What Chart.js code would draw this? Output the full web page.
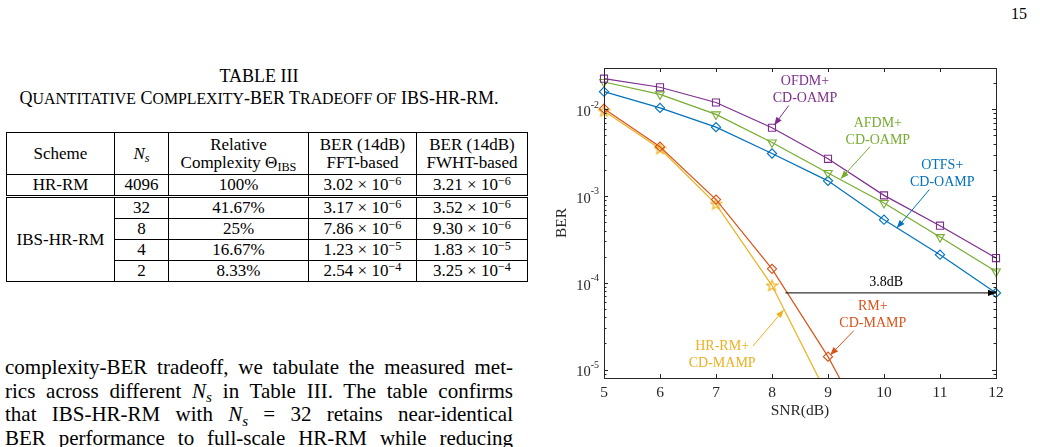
<!DOCTYPE html>
<html>
<head>
<meta charset="utf-8">
<script src="https://cdn.jsdelivr.net/npm/chart.js@4.4.1/dist/chart.umd.min.js"></script>
<style>
  html, body { margin: 0; padding: 0; background: #fff; }
  body { width: 1040px; height: 447px; overflow: hidden; position: relative;
         font-family: "Liberation Serif", "Times New Roman", serif; color: #000; }
  .pageno { position: absolute; left: 1011px; top: 5px; font-size: 16px; }
  .cap { position: absolute; left: 5px; width: 508px; top: 65px; text-align: center;
         font-size: 18px; line-height: 22px; white-space: nowrap; }
  .cap small { font-size: 0.88em; }
  table.t3 { position: absolute; left: 6px; top: 132px; border-collapse: collapse;
             table-layout: fixed; font-size: 17px; font-family: "Liberation Serif", "Times New Roman", serif; }
  table.t3 td { border: 1px solid #000; text-align: center; vertical-align: middle;
                padding: 0; height: 20px; line-height: 18px; white-space: nowrap; }
  table.t3 tr.head td { height: 41px; }
  table.t3 tr.dbl td { border-bottom: 3px double #000; }
  sub, sup { font-size: 72%; line-height: 0; vertical-align: baseline; position: relative; }
  sub { top: 0.3em; }
  sup { top: -0.45em; }
  .para { position: absolute; left: 5px; top: 356px; width: 508px; font-size: 21px; line-height: 23.7px; }
  .para div { height: 23.7px; text-align: justify; text-align-last: justify; white-space: nowrap; }
  #wrap { position: absolute; left: 540px; top: 50px; width: 470px; height: 380px; }
</style>
</head>
<body>
<div class="pageno">15</div>

<div class="cap">TABLE III<br>Q<small>UANTITATIVE</small> C<small>OMPLEXITY</small>-BER T<small>RADEOFF OF</small> IBS-HR-RM.</div>

<table class="t3">
  <colgroup><col style="width:108px"><col style="width:54px"><col style="width:140px"><col style="width:108px"><col style="width:111px"></colgroup>
  <tr class="head"><td>Scheme</td><td><i>N<sub>s</sub></i></td><td>Relative<br>Complexity &Theta;<sub>IBS</sub></td><td>BER (14dB)<br>FFT-based</td><td>BER (14dB)<br>FWHT-based</td></tr>
  <tr class="dbl"><td>HR-RM</td><td>4096</td><td>100%</td><td>3.02 &times; 10<sup>&minus;6</sup></td><td>3.21 &times; 10<sup>&minus;6</sup></td></tr>
  <tr><td rowspan="4">IBS-HR-RM</td><td>32</td><td>41.67%</td><td>3.17 &times; 10<sup>&minus;6</sup></td><td>3.52 &times; 10<sup>&minus;6</sup></td></tr>
  <tr><td>8</td><td>25%</td><td>7.86 &times; 10<sup>&minus;6</sup></td><td>9.30 &times; 10<sup>&minus;6</sup></td></tr>
  <tr><td>4</td><td>16.67%</td><td>1.23 &times; 10<sup>&minus;5</sup></td><td>1.83 &times; 10<sup>&minus;5</sup></td></tr>
  <tr><td>2</td><td>8.33%</td><td>2.54 &times; 10<sup>&minus;4</sup></td><td>3.25 &times; 10<sup>&minus;4</sup></td></tr>
</table>

<div class="para">
  <div>complexity-BER tradeoff, we tabulate the measured met-</div>
  <div>rics across different <i>N<sub>s</sub></i> in Table III. The table confirms</div>
  <div>that IBS-HR-RM with <i>N<sub>s</sub></i> = 32 retains near-identical</div>
  <div>BER performance to full-scale HR-RM while reducing</div>
</div>

<div id="wrap"><canvas id="berChart"></canvas></div>

<script>
// SNR grid (dB) and BER curves
var snr = [5, 6, 7, 8, 9, 10, 11, 12];
var berOfdm = [0.0226, 0.0180, 0.0120, 0.00614, 0.00269, 0.00102, 4.56e-4, 1.93e-4];
var berAfdm = [0.0207, 0.0149, 0.00875, 0.00415, 0.00185, 8.33e-4, 3.37e-4, 1.35e-4];
var berOtfs = [0.0160, 0.0104, 0.00624, 0.00310, 0.00150, 5.35e-4, 2.11e-4, 7.66e-5];
var berRm   = [0.0102, 0.00371, 9.12e-4, 1.45e-4, 1.41e-5, 9.0e-7];
var berHrRm = [0.00955, 0.00351, 8.1e-4, 9.3e-5, 4.9e-6];
var berTicks = [1e-5, 1e-4, 1e-3, 1e-2];

var FONT = '"Liberation Serif", "Times New Roman", serif';
var AXIS = '#262626';
var BLUE = '#0072BD', ORANGE = '#D95319', YELLOW = '#EDB120', PURPLE = '#7E2F8E', GREEN = '#77AC30';

// labels + arrows, in data units (SNR, BER)
var notes = [
  { lines: ['OFDM+', 'CD-OAMP'], at: [8.59, 0.0166], color: PURPLE, from: [8.30, 0.0111], to: [8.04, 0.00658] },
  { lines: ['AFDM+', 'CD-OAMP'], at: [9.89, 0.00554], color: GREEN, from: [9.75, 0.00371], to: [9.23, 0.00159] },
  { lines: ['OTFS+', 'CD-OAMP'], at: [11.04, 0.00179], color: BLUE, from: [10.81, 0.00119], to: [10.23, 4.28e-4] },
  { lines: ['RM+', 'CD-MAMP'], at: [9.80, 4.31e-5], color: ORANGE, from: [9.46, 2.81e-5], to: [9.04, 1.47e-5] },
  { lines: ['HR-RM+', 'CD-MAMP'], at: [7.11, 1.47e-5], color: YELLOW, from: [7.66, 1.87e-5], to: [8.21, 4.88e-5] },
  { lines: ['3.8dB'], at: [10.04, 1.02e-4], color: '#000', from: [8.24, 7.66e-5], to: [12, 7.66e-5] }
];

function pts(ys) {
  return ys.map(function (v, i) { return { x: snr[i], y: v }; });
}

// MATLAB-style pentagram marker
function pentagram(color) {
  var c = document.createElement('canvas');
  c.width = 13; c.height = 13;
  var g = c.getContext('2d');
  g.strokeStyle = color; g.lineWidth = 1.2;
  g.beginPath();
  for (var k = 0; k < 10; k++) {
    var r = k % 2 ? 2.4 : 5.7;
    var a = -Math.PI / 2 + k * Math.PI / 5;
    var px = 6.5 + r * Math.cos(a), py = 6.8 + r * Math.sin(a);
    if (k) g.lineTo(px, py); else g.moveTo(px, py);
  }
  g.closePath(); g.stroke();
  return c;
}

function series(data, color, style, radius, rot) {
  return {
    data: pts(data), borderColor: color, backgroundColor: 'transparent', borderWidth: 1.2,
    pointStyle: style, pointRadius: radius, pointRotation: rot || 0, pointBorderColor: color,
    pointBorderWidth: 1.1, pointBackgroundColor: 'transparent', tension: 0,
    clip: { left: 10, right: 10, top: 10, bottom: 0 }
  };
}

var framePlugin = {
  id: 'frame',
  afterDatasetsDraw: function (chart) {
    var ctx = chart.ctx, a = chart.chartArea;
    var xs = chart.scales.x, ys = chart.scales.y;
    ctx.save();

    // annotations
    notes.forEach(function (n) {
      var x0 = xs.getPixelForValue(n.from[0]), y0 = ys.getPixelForValue(n.from[1]);
      var x1 = xs.getPixelForValue(n.to[0]), y1 = ys.getPixelForValue(n.to[1]);
      ctx.strokeStyle = n.color; ctx.fillStyle = n.color; ctx.lineWidth = 1;
      ctx.beginPath(); ctx.moveTo(x0, y0); ctx.lineTo(x1, y1); ctx.stroke();
      var ang = Math.atan2(y1 - y0, x1 - x0), L = 8, W = 3.2;
      ctx.beginPath();
      ctx.moveTo(x1, y1);
      ctx.lineTo(x1 - L * Math.cos(ang) + W * Math.sin(ang), y1 - L * Math.sin(ang) - W * Math.cos(ang));
      ctx.lineTo(x1 - L * Math.cos(ang) - W * Math.sin(ang), y1 - L * Math.sin(ang) + W * Math.cos(ang));
      ctx.closePath(); ctx.fill();

      var cx = xs.getPixelForValue(n.at[0]), cy = ys.getPixelForValue(n.at[1]);
      ctx.font = '14px ' + FONT; ctx.textAlign = 'center'; ctx.textBaseline = 'middle';
      var lh = 17, top = cy - (n.lines.length - 1) * lh / 2;
      n.lines.forEach(function (t, i) { ctx.fillText(t, cx, top + i * lh); });
    });

    // box
    ctx.strokeStyle = AXIS; ctx.lineWidth = 1;
    ctx.strokeRect(Math.round(a.left) + 0.5, Math.round(a.top) + 0.5,
      Math.round(a.right - a.left), Math.round(a.bottom - a.top));

    // x ticks (inward, top and bottom)
    ctx.beginPath();
    xs.ticks.forEach(function (t) {
      var x = Math.round(xs.getPixelForValue(t.value)) + 0.5;
      ctx.moveTo(x, a.bottom); ctx.lineTo(x, a.bottom - 4);
      ctx.moveTo(x, a.top); ctx.lineTo(x, a.top + 4);
    });
    // y major + minor ticks (inward, left and right)
    var d0 = Math.floor(Math.log10(ys.min)), d1 = Math.ceil(Math.log10(ys.max));
    for (var d = d0; d <= d1; d++) {
      for (var m = 1; m <= 9; m++) {
        var v = m * Math.pow(10, d);
        if (v < ys.min || v > ys.max) continue;
        var y = Math.round(ys.getPixelForValue(v)) + 0.5, len = m === 1 ? 4 : 2.5;
        ctx.moveTo(a.left, y); ctx.lineTo(a.left + len, y);
        ctx.moveTo(a.right, y); ctx.lineTo(a.right - len, y);
      }
    }
    ctx.stroke();

    // y tick labels 10^n
    ctx.fillStyle = AXIS; ctx.textBaseline = 'middle';
    ys.ticks.forEach(function (t) {
      var y = ys.getPixelForValue(t.value);
      var ex = String(Math.round(Math.log10(t.value)));
      ctx.font = '10px ' + FONT; ctx.textAlign = 'right';
      var ew = ctx.measureText(ex).width;
      var xr = a.left - 5;
      ctx.fillText(ex, xr, y - 4.5);
      ctx.font = '14.5px ' + FONT;
      ctx.fillText('10', xr - ew, y + 3);
    });
    ctx.restore();
  }
};

new Chart(document.getElementById('berChart').getContext('2d'), {
  type: 'line',
  data: {
    datasets: [
      series(berOfdm, PURPLE, 'rect', 5),
      series(berAfdm, GREEN, 'triangle', 5, 180),
      series(berOtfs, BLUE, 'rectRot', 4.6),
      series(berRm, ORANGE, 'rectRot', 4.6),
      series(berHrRm, YELLOW, pentagram(YELLOW), 5)
    ]
  },
  options: {
    responsive: true, maintainAspectRatio: false, animation: false,
    layout: { padding: { left: 0, right: 14, top: 18, bottom: 0 } },
    plugins: { legend: { display: false }, tooltip: { enabled: false } },
    scales: {
      x: {
        type: 'linear', min: 5, max: 12,
        afterFit: function (s) { s.height = 52; },
        grid: { display: false, drawTicks: false }, border: { display: false },
        ticks: { stepSize: 1, padding: 6, color: AXIS, font: { family: FONT, size: 15.5 } },
        title: { display: true, text: 'SNR(dB)', color: AXIS, font: { family: FONT, size: 15.5 }, padding: { top: 0, bottom: 10 } }
      },
      y: {
        type: 'logarithmic', min: 8e-6, max: 3e-2,
        afterFit: function (s) { s.width = 64; },
        afterBuildTicks: function (s) { s.ticks = berTicks.map(function (v) { return { value: v, major: true }; }); },
        grid: { display: false, drawTicks: false }, border: { display: false },
        ticks: { display: false },
        title: { display: true, text: 'BER', color: AXIS, font: { family: FONT, size: 15.5 }, padding: { top: 13, bottom: 0 } }
      }
    }
  },
  plugins: [framePlugin]
});
</script>
</body>
</html>
